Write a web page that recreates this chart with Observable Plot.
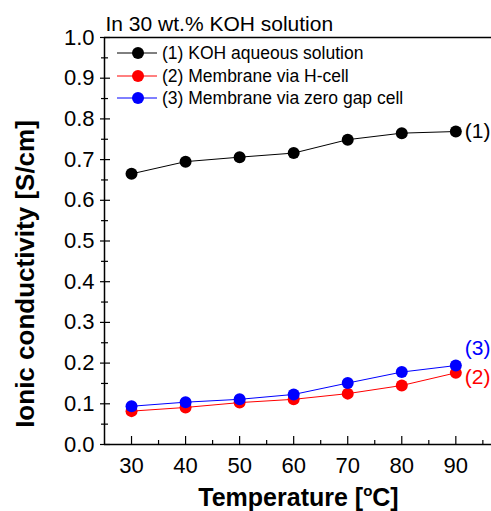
<!DOCTYPE html>
<html><head><meta charset="utf-8">
<script src="https://cdn.jsdelivr.net/npm/d3@7"></script>
<script src="https://cdn.jsdelivr.net/npm/@observablehq/plot@0.6"></script>
<style>
body{margin:0;background:#fff}
#chart{width:491px;height:511px}
</style>
</head><body><div id="chart"></div>
<script>
// ---- data ----
const temperatures = [30, 40, 50, 60, 70, 80, 90];
const kohSolution = [0.665, 0.695, 0.706, 0.716, 0.749, 0.765, 0.769];
const membraneHCell = [0.082, 0.091, 0.103, 0.111, 0.125, 0.145, 0.176];
const membraneZeroGap = [0.094, 0.104, 0.111, 0.123, 0.151, 0.178, 0.194];
const seriesNames = ["(1) KOH aqueous solution", "(2) Membrane via H-cell", "(3) Membrane via zero gap cell"];
const seriesTags = ["(1)", "(2)", "(3)"];
const seriesColors = ["#000000", "#ff0000", "#0000ff"];
const xMajorTicks = [30, 40, 50, 60, 70, 80, 90];
const xMinorTicks = [35, 45, 55, 65, 75, 85, 95];
const yMajorTicks = [0, 0.1, 0.2, 0.3, 0.4, 0.5, 0.6, 0.7, 0.8, 0.9, 1.0];
const yMinorTicks = [0.05, 0.15, 0.25, 0.35, 0.45, 0.55, 0.65, 0.75, 0.85, 0.95];
const titleText = "In 30 wt.% KOH solution";
const yLabel = "Ionic conductivity [S/cm]";

const seriesValues = [kohSolution, membraneHCell, membraneZeroGap];
const rows = seriesValues.flatMap((vals, i) =>
  temperatures.map((t, j) => ({t, v: vals[j], s: seriesNames[i], tag: seriesTags[i]})));
const lastRows = seriesValues.map((vals, i) => ({t: temperatures[temperatures.length - 1], v: vals[vals.length - 1], s: seriesNames[i], tag: seriesTags[i]}));

const FONT = "'Liberation Sans', Arial, sans-serif";
const W = 491, H = 511;
const mL = 104, mT = 37, mB = 67, mR = 0;

const chart = Plot.plot({
  width: W, height: H,
  marginLeft: mL, marginTop: mT, marginBottom: mB, marginRight: mR,
  style: {fontFamily: FONT, fontSize: "22px", color: "#000", background: "#fff", overflow: "visible"},
  x: {domain: [25, 96.6], axis: null},
  y: {domain: [0, 1], axis: null},
  color: {domain: seriesNames, range: seriesColors},
  marks: [
    // axis frame lines
    Plot.ruleX([25], {stroke: "#000", strokeWidth: 1.5}),
    Plot.ruleY([0], {stroke: "#000", strokeWidth: 1.5}),
    Plot.ruleY([1], {stroke: "#000", strokeWidth: 1.5}),
    // y ticks (crossing axis)
    Plot.tickY(yMajorTicks, {y: d => d, stroke: "#000", strokeWidth: 1.2, insetLeft: -4, insetRight: W - mL - 6}),
    Plot.tickY(yMinorTicks, {y: d => d, stroke: "#000", strokeWidth: 1.2, insetLeft: -3, insetRight: W - mL - 4}),
    // x ticks (inward)
    Plot.tickX(xMajorTicks, {x: d => d, stroke: "#000", strokeWidth: 1.2, insetTop: H - mT - mB - 8}),
    Plot.tickX(xMinorTicks, {x: d => d, stroke: "#000", strokeWidth: 1.2, insetTop: H - mT - mB - 4}),
    // tick labels
    Plot.axisY(yMajorTicks, {tickSize: 0, tickPadding: 10, tickFormat: d3.format(".1f"), fontSize: 22, label: null}),
    Plot.axisX(xMajorTicks, {tickSize: 0, tickPadding: 13, tickFormat: d => String(d), fontSize: 22, label: null}),
    // data
    Plot.line(rows, {x: "t", y: "v", z: "s", stroke: "s", strokeWidth: 1}),
    Plot.dot(rows, {x: "t", y: "v", fill: "s", r: 6, stroke: "none"}),
    // end labels
    Plot.text(lastRows.slice(0, 1), {x: "t", y: "v", text: "tag", fill: "s", dx: 9, dy: 0, textAnchor: "start", fontSize: 21}),
    Plot.text(lastRows.slice(1, 2), {x: "t", y: "v", text: "tag", fill: "s", dx: 9, dy: 4, textAnchor: "start", fontSize: 21}),
    Plot.text(lastRows.slice(2, 3), {x: "t", y: "v", text: "tag", fill: "s", dx: 9, dy: -17, textAnchor: "start", fontSize: 21}),
    // title
    Plot.text([titleText], {frameAnchor: "top-left", dx: 1, dy: -7, textAnchor: "start", lineAnchor: "bottom", fontSize: 21}),
    // y label
    Plot.text([yLabel], {frameAnchor: "left", dx: -71, dy: 33, rotate: -90, textAnchor: "middle", lineAnchor: "bottom", fontSize: 26, fontWeight: "bold"})
  ]
});

const svg = d3.select(chart);
// legend
const lg = svg.append("g").attr("font-family", FONT).attr("font-size", 17.5).attr("text-anchor", "start");
const legendRowsY = [53, 76, 98];
seriesNames.forEach((name, i) => {
  const y = legendRowsY[i];
  lg.append("line").attr("x1", 117).attr("x2", 157).attr("y1", y).attr("y2", y).attr("stroke", seriesColors[i]).attr("stroke-width", 1);
  lg.append("circle").attr("cx", 138).attr("cy", y).attr("r", 6).attr("fill", seriesColors[i]);
  lg.append("text").attr("x", 162).attr("y", y).attr("dy", "0.35em").attr("text-anchor", "start").attr("fill", "#000").text(name);
});
// x label with superscript
const xl = svg.append("text").attr("x", 298.5).attr("y", 506).attr("text-anchor", "middle")
  .attr("font-family", FONT).attr("font-size", 25).attr("font-weight", "bold").attr("fill", "#000");
xl.append("tspan").text("Temperature [");
xl.append("tspan").attr("font-size", 15).attr("dy", -10).text("o");
xl.append("tspan").attr("dy", 10).text("C]");

document.getElementById("chart").appendChild(chart);
</script>
</body></html>
